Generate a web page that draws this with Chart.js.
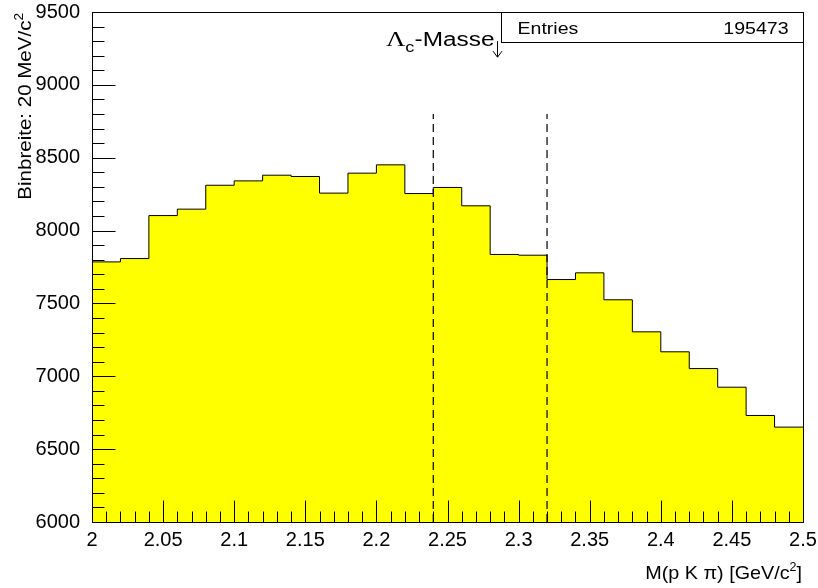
<!DOCTYPE html>
<html lang="de">
<head>
    <meta charset="UTF-8">
    <title>Lambda_c Masse</title>
    <style>
        body {
            margin: 0;
            background: #fff;
        }

        #chart-container {
            position: relative;
            width: 818px;
            height: 588px;
        }
    </style>
</head>
<body>
<div id="chart-container">
    <canvas id="mass-chart"></canvas>
</div>
<script src="https://cdn.jsdelivr.net/npm/chart.js@4.4.1/dist/chart.umd.min.js"></script>
<script>
    // histogram: lower bin edges (GeV/c^2), 20 MeV wide, plus the upper edge of the last bin
    const binEdges = [2.00, 2.02, 2.04, 2.06, 2.08, 2.10, 2.12, 2.14, 2.16, 2.18, 2.20, 2.22, 2.24,
        2.26, 2.28, 2.30, 2.32, 2.34, 2.36, 2.38, 2.40, 2.42, 2.44, 2.46, 2.48, 2.50];
    const binCounts = [7785, 7808, 8103, 8147, 8311, 8341, 8380, 8371, 8257, 8394, 8451, 8254, 8296,
        8170, 7836, 7831, 7664, 7710, 7525, 7305, 7168, 7053, 6925, 6731, 6651];

    // mass window cuts
    const cutPositions = [2.24, 2.32];
    const cutTop = 8800;

    // Lambda_c mass marker
    const lambdaMass = 2.2849;
    const arrowFrom = 9300;
    const arrowTo = 9190;

    const entries = 195473;

    const yMin = 6000, yMax = 9500;
    const xMin = 2.0, xMax = 2.5;

    const FONT = '"Liberation Sans", Arial, Helvetica, sans-serif';

    // step outline: each bin starts at its lower edge, last point closes the last bin
    const histPoints = binEdges.map((x, i) => ({x: x, y: binCounts[Math.min(i, binCounts.length - 1)]}));

    const cutDatasets = cutPositions.map(x => ({
        label: 'cut ' + x,
        data: [{x: x, y: yMin}, {x: x, y: cutTop}],
        borderColor: '#000',
        borderWidth: 1.2,
        borderDash: [8, 5],
        pointRadius: 0,
        fill: false,
        order: 1
    }));

    // draw text pieces (sub/superscripts) with a slight horizontal stretch
    function richText(ctx, parts, x, y, align, stretch) {
        let width = 0;
        for (const p of parts) {
            ctx.font = p.size + 'px ' + (p.family || FONT);
            p.w = ctx.measureText(p.text).width;
            width += p.w;
        }
        width *= stretch;
        ctx.save();
        ctx.translate(align === 'right' ? x - width : x, y);
        ctx.scale(stretch, 1);
        ctx.textBaseline = 'alphabetic';
        ctx.textAlign = 'left';
        ctx.fillStyle = '#000';
        let cx = 0;
        for (const p of parts) {
            ctx.font = p.size + 'px ' + (p.family || FONT);
            ctx.fillText(p.text, cx, p.dy || 0);
            cx += p.w;
        }
        ctx.restore();
    }

    const rootStyle = {
        id: 'rootStyle',
        afterDatasetsDraw(chart) {
            const ctx = chart.ctx;
            const area = chart.chartArea;
            const xs = chart.scales.x, ys = chart.scales.y;
            const px = v => Math.round(xs.getPixelForValue(v)) + 0.5;
            const py = v => Math.round(ys.getPixelForValue(v)) + 0.5;
            const bottom = Math.round(area.bottom) + 0.5;
            const left = Math.round(area.left) + 0.5;

            ctx.save();
            ctx.strokeStyle = '#000';
            ctx.lineWidth = 1;

            // inward ticks
            ctx.beginPath();
            for (let v = yMin; v <= yMax; v += 100) {
                const len = v % 500 === 0 ? 23 : 12;
                ctx.moveTo(left, py(v));
                ctx.lineTo(left + len, py(v));
            }
            for (let i = 0; i <= 50; i++) {
                const v = xMin + i * 0.01;
                const len = i % 5 === 0 ? 22 : 11;
                ctx.moveTo(px(v), bottom);
                ctx.lineTo(px(v), bottom - len);
            }
            ctx.stroke();

            // frame
            ctx.strokeRect(left, Math.round(area.top) + 0.5,
                Math.round(area.right) - Math.round(area.left), Math.round(area.bottom) - Math.round(area.top));

            // stats box
            const boxRight = Math.round(area.right) + 0.5;
            const boxLeft = boxRight - 302;
            const boxTop = Math.round(area.top) + 0.5;
            ctx.fillStyle = '#fff';
            ctx.fillRect(boxLeft, boxTop, boxRight - boxLeft, 30);
            ctx.strokeRect(boxLeft, boxTop, boxRight - boxLeft, 30);
            richText(ctx, [{text: 'Entries', size: 17}], boxLeft + 16, boxTop + 21, 'left', 1.15);
            richText(ctx, [{text: String(entries), size: 17}], boxRight - 15, boxTop + 21, 'right', 1.15);

            // Lambda_c mass arrow
            const ax = px(lambdaMass);
            const a0 = ys.getPixelForValue(arrowFrom), a1 = ys.getPixelForValue(arrowTo);
            ctx.beginPath();
            ctx.moveTo(ax, a0);
            ctx.lineTo(ax, a1);
            ctx.moveTo(ax - 4.5, a1 - 6);
            ctx.lineTo(ax, a1);
            ctx.lineTo(ax + 4.5, a1 - 6);
            ctx.stroke();
            richText(ctx, [
                {text: 'Λ', size: 22, family: '"Liberation Serif", "Times New Roman", serif'},
                {text: 'c', size: 15, dy: 6},
                {text: '-Masse', size: 20}
            ], ax - 3, 46, 'right', 1.22);

            // x axis title
            richText(ctx, [
                {text: 'M(p K π) [GeV/c', size: 19},
                {text: '2', size: 12, dy: -8},
                {text: ']', size: 19}
            ], 802, 579, 'right', 1.04);

            // y axis title, rotated, ending at the top of the frame
            ctx.save();
            ctx.translate(31, 13);
            ctx.rotate(-Math.PI / 2);
            richText(ctx, [
                {text: 'Binbreite: 20 MeV/c', size: 18},
                {text: '2', size: 12, dy: -8}
            ], 0, 0, 'right', 1.14);
            ctx.restore();

            ctx.restore();
        }
    };

    const chart = new Chart('mass-chart', {
        type: 'line',
        data: {
            datasets: [{
                label: 'M(p K pi)',
                data: histPoints,
                stepped: 'before',
                borderColor: '#000',
                borderWidth: 1,
                backgroundColor: '#ffff00',
                fill: 'start',
                pointRadius: 0,
                order: 2
            }, ...cutDatasets]
        },
        options: {
            responsive: true,
            maintainAspectRatio: false,
            animation: false,
            layout: {
                padding: {top: 12, right: 15, left: 0, bottom: 0}
            },
            plugins: {
                legend: {display: false},
                tooltip: {enabled: false}
            },
            scales: {
                x: {
                    type: 'linear',
                    min: xMin,
                    max: xMax,
                    // tick marks are drawn inside the frame by the plugin; tickLength only spaces the labels
                    grid: {display: false, drawTicks: true, tickLength: 6},
                    border: {display: false},
                    ticks: {
                        stepSize: 0.05,
                        color: '#000',
                        padding: 0,
                        maxRotation: 0,
                        font: {family: FONT, size: 20},
                        callback: v => String(+v.toFixed(2))
                    },
                    afterFit(scale) {
                        scale.height = 66;
                    }
                },
                y: {
                    min: yMin,
                    max: yMax,
                    grid: {display: false, drawTicks: true, tickLength: 12},
                    border: {display: false},
                    ticks: {
                        stepSize: 500,
                        color: '#000',
                        padding: 0,
                        font: {family: FONT, size: 20},
                        callback: v => String(v)
                    },
                    afterFit(scale) {
                        scale.width = 92;
                    }
                }
            }
        },
        plugins: [rootStyle]
    });
</script>
</body>
</html>
